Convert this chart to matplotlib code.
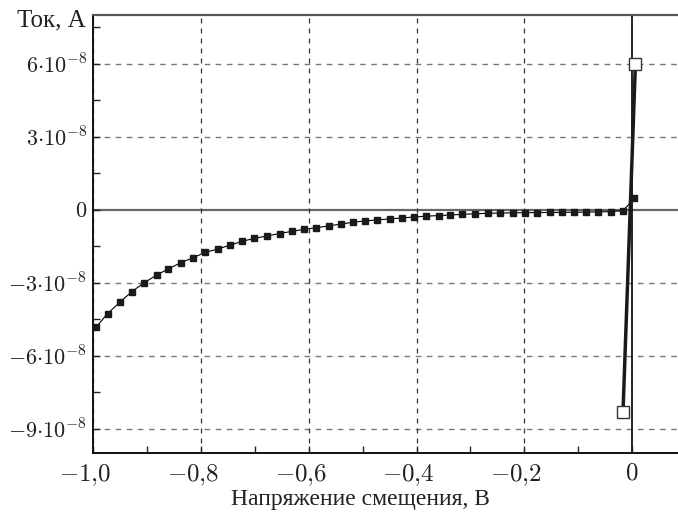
import matplotlib
matplotlib.use("Agg")
import matplotlib.pyplot as plt
import matplotlib.transforms as mtransforms
from matplotlib.ticker import FixedLocator, MultipleLocator

# filled-square series (bias sweep)
volt = [-0.994, -0.973, -0.950, -0.928, -0.905, -0.882, -0.860, -0.837, -0.814,
        -0.792, -0.769, -0.746, -0.723, -0.701, -0.677, -0.654, -0.631, -0.609,
        -0.586, -0.563, -0.540, -0.518, -0.495, -0.473, -0.450, -0.427, -0.404,
        -0.382, -0.359, -0.337, -0.315, -0.291, -0.268, -0.246, -0.221, -0.199,
        -0.177, -0.153, -0.130, -0.108, -0.085, -0.063, -0.040, -0.017, 0.004]
current_nA = [-48.2, -42.7, -38.0, -33.7, -30.0, -26.9, -24.3, -21.8, -19.7,
              -17.6, -16.2, -14.6, -13.0, -11.8, -10.8, -9.8, -8.9, -8.1,
              -7.4, -6.7, -5.9, -5.2, -4.6, -4.2, -3.8, -3.4, -3.0,
              -2.7, -2.4, -2.2, -1.9, -1.7, -1.5, -1.4, -1.3, -1.25,
              -1.2, -1.15, -1.1, -1.05, -1.0, -0.9, -0.8, -0.4, 4.6]

# open-square series
volt2 = [-0.017, 0.006]
current2_nA = [-83.0, 60.0]

ytick_vals = [-9e-8, -6e-8, -3e-8, 0, 3e-8, 6e-8]
ytick_labels = [r"$-9{\cdot}10^{-8}$", r"$-6{\cdot}10^{-8}$", r"$-3{\cdot}10^{-8}$",
                r"$0$", r"$3{\cdot}10^{-8}$", r"$6{\cdot}10^{-8}$"]
xtick_vals = [-1.0, -0.8, -0.6, -0.4, -0.2, 0.0]
xtick_labels = [r"$-1{,}0$", r"$-0{,}8$", r"$-0{,}6$", r"$-0{,}4$", r"$-0{,}2$", r"$0$"]

plt.rcParams["mathtext.fontset"] = "cm"
plt.rcParams["font.family"] = ["Liberation Serif", "DejaVu Serif"]

fig = plt.figure(figsize=(6.78, 5.13), dpi=100)
ax = fig.add_axes([93 / 678, 60 / 513, 585 / 678, 438 / 513])

# grid
for yv in ytick_vals:
    if yv == 0:
        ax.axhline(0, color="#666666", lw=1.6, zorder=1)
    else:
        ax.axhline(yv, color="#777777", lw=1.0, ls=(0, (4, 4)), zorder=1)
for xv in xtick_vals:
    if xv == 0:
        ax.axvline(0, color="black", lw=1.2, zorder=1)
    else:
        ax.axvline(xv, color="#333333", lw=0.9, ls=(0, (4, 4)), zorder=1)

ax.plot(volt, [v * 1e-9 for v in current_nA], color="black", lw=0.8,
        marker="s", ms=5, mfc="#1a1a1a", mec="#1a1a1a", zorder=3)
ax.plot(volt2, [v * 1e-9 for v in current2_nA], color="#1a1a1a", lw=2.5, zorder=4)
ax.plot(volt2, [v * 1e-9 for v in current2_nA], ls="none", marker="s", ms=9,
        mfc="white", mec="#333333", mew=1.0, zorder=5)

ax.set_xlim(-1.0, 0.085)
ax.set_ylim(-1.0e-7, 8.0e-8)

ax.yaxis.set_major_locator(FixedLocator(ytick_vals))
ax.set_yticklabels(ytick_labels)
ax.yaxis.set_minor_locator(MultipleLocator(1.5e-8))
ax.xaxis.set_major_locator(FixedLocator(xtick_vals))
ax.set_xticklabels(xtick_labels)
ax.xaxis.set_minor_locator(MultipleLocator(0.1))

ax.tick_params(which="both", direction="in", top=False, right=False,
               colors="#222222")
ax.tick_params(axis="y", labelsize=16, pad=4)
ax.tick_params(axis="x", labelsize=18, pad=7)
ax.tick_params(which="major", length=5, width=1)
ax.tick_params(which="minor", length=5, width=1)

# x tick labels sit slightly left of their ticks in the original
shift = mtransforms.ScaledTranslation(-8 / 100, 0, fig.dpi_scale_trans)
for lbl in ax.get_xticklabels():
    if lbl.get_text() != r"$0$":
        lbl.set_transform(lbl.get_transform() + shift)

ax.spines["right"].set_visible(False)
ax.spines["top"].set_color("#555555")
ax.spines["top"].set_linewidth(1.6)
for s in ["left", "bottom"]:
    ax.spines[s].set_color("#111111")
    ax.spines[s].set_linewidth(1.4)

fig.text(86 / 678, 1 - 20 / 513, "Ток, А", ha="right", va="center",
         fontsize=18, color="#222222")
fig.text(360 / 678, 1 - 500 / 513, "Напряжение смещения, В", ha="center",
         va="center", fontsize=17, color="#222222")

fig.savefig("out.png", dpi=100)
